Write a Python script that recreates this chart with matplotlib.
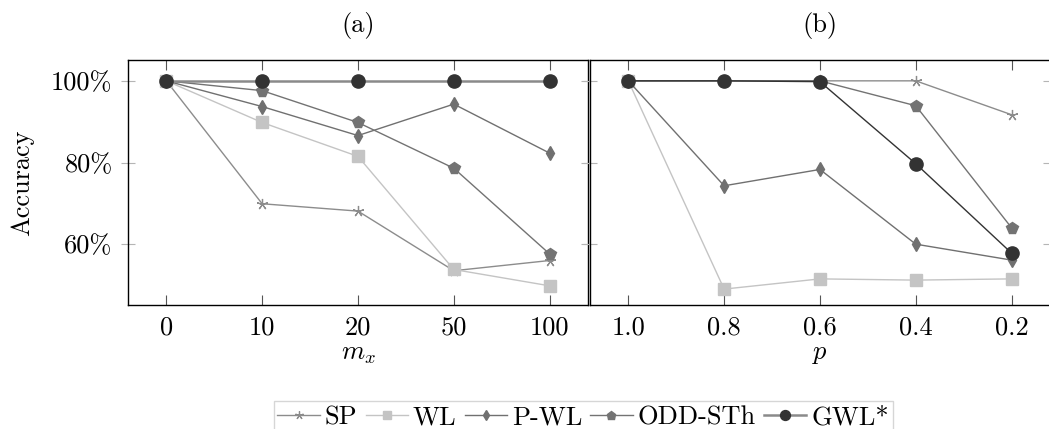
import matplotlib
matplotlib.use('Agg')
import matplotlib.pyplot as plt
from matplotlib.ticker import FuncFormatter

plt.rcParams['font.family'] = 'cmr10'
plt.rcParams['mathtext.fontset'] = 'cm'
plt.rcParams['axes.unicode_minus'] = False

# data (accuracy in %)
mx_labels = ['0', '10', '20', '50', '100']
p_labels = ['1.0', '0.8', '0.6', '0.4', '0.2']

sp_a = [100, 69.9, 68.1, 53.5, 56.0]
wl_a = [100, 89.8, 81.5, 53.8, 49.8]
pwl_a = [100, 93.7, 86.6, 94.3, 82.3]
odd_a = [100, 97.6, 89.8, 78.6, 57.6]
gwl_a = [100, 100, 100, 100, 100]

sp_b = [100, 100, 100, 100, 91.7]
wl_b = [100, 49.0, 51.5, 51.2, 51.5]
pwl_b = [100, 74.3, 78.3, 60.0, 56.1]
odd_b = [100, 100, 100, 93.9, 64.0]
gwl_b = [100, 100, 99.8, 79.7, 57.8]

names = ['SP', 'WL', 'P-WL', 'ODD-STh', 'GWL*']

fig = plt.figure(figsize=(10.49, 4.29), dpi=100)
ax1 = fig.add_axes([0.1220, 0.2890, 0.4385, 0.5711])
ax2 = fig.add_axes([0.5624, 0.2890, 0.4385, 0.5711])


def draw(ax, series, gwl_line, gwl_lw):
    x = list(range(5))
    sp, wl, pwl, odd, gwl = series
    h = []
    h += ax.plot(x, sp, color='#8c8c8c', lw=1.0, marker=(5, 2, 0), ms=8, mew=0.9, label=names[0])
    h += ax.plot(x, wl, color='#c4c4c4', lw=1.0, marker='s', ms=8.5, label=names[1])
    h += ax.plot(x, pwl, color='#707070', lw=1.0, marker='d', ms=7, label=names[2])
    h += ax.plot(x, odd, color='#737373', lw=1.0, marker='p', ms=8.5, label=names[3])
    h += ax.plot(x, gwl, color=gwl_line, lw=gwl_lw, marker='o', ms=9.5,
                 mfc='#333333', mec='#333333', label=names[4])
    ax.set_xlim(-0.4, 4.4)
    ax.set_ylim(45.1, 105.1)
    ax.set_yticks([60, 80, 100])
    ax.set_xticks(x)
    ax.tick_params(axis='x', direction='in', top=True, bottom=True, length=7,
                   color='#555555', labelsize=19, pad=8)
    ax.tick_params(axis='y', direction='inout', left=True, right=True, length=10,
                   color='#b5b5b5', labelsize=19, pad=6)
    for s in ax.spines.values():
        s.set_linewidth(1.0)
    return h


handles = draw(ax1, [sp_a, wl_a, pwl_a, odd_a, gwl_a], '#8a8a8a', 1.8)
draw(ax2, [sp_b, wl_b, pwl_b, odd_b, gwl_b], '#333333', 1.0)

ax1.set_xticklabels(mx_labels)
ax2.set_xticklabels(p_labels)
ax1.yaxis.set_major_formatter(FuncFormatter(lambda v, pos: '%d%%' % v))
ax2.set_yticklabels([])

ax1.set_xlabel('$m_x$', fontsize=19, labelpad=2)
ax2.set_xlabel('$p$', fontsize=19, labelpad=2)
ax1.set_ylabel('Accuracy', fontsize=19, labelpad=12)
ax1.set_title('(a)', fontsize=19, pad=20)
ax2.set_title('(b)', fontsize=19, pad=20)

leg = fig.legend(handles=handles, loc='upper center', bbox_to_anchor=(0.556, 0.095),
                 ncol=5, fontsize=19, frameon=True, fancybox=False, handlelength=1.6,
                 handletextpad=0.2, columnspacing=0.3, borderpad=0.15, markerscale=0.75)
leg.get_frame().set_edgecolor('#cccccc')
leg.get_frame().set_linewidth(1.0)

fig.savefig('out.png', dpi=100)
